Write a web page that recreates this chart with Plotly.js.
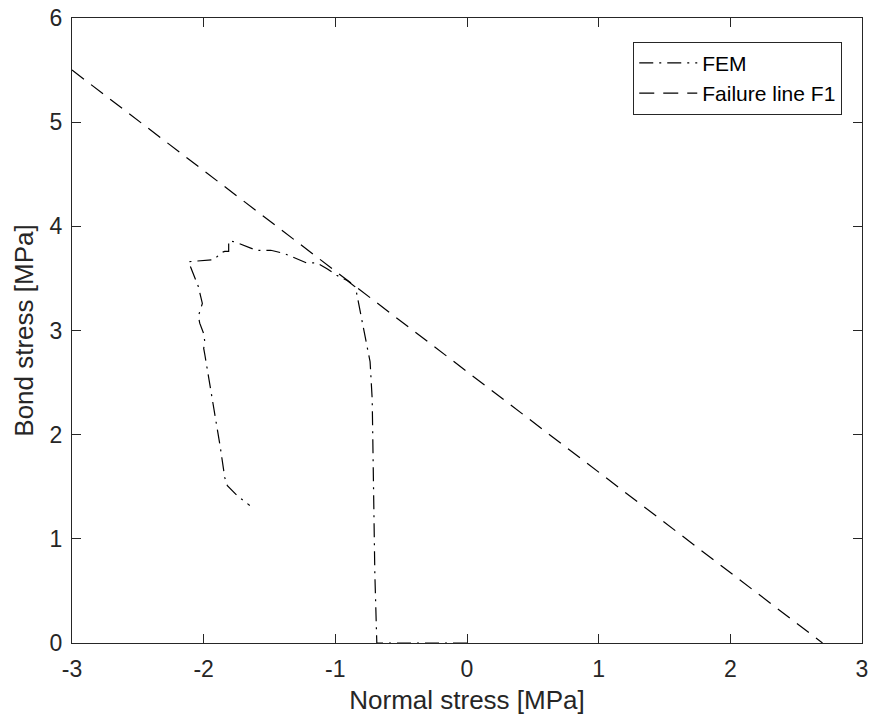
<!DOCTYPE html>
<html>
<head>
<meta charset="utf-8">
<script src="https://cdn.plot.ly/plotly-3.0.1.min.js"></script>
<style>html,body{margin:0;padding:0;background:#fff;}#chart{width:873px;height:723px;}</style>
</head>
<body>
<div id="chart"></div>
<script>
const femX = [0, -0.685, -0.70, -0.71, -0.72, -0.736, -0.766, -0.80, -0.84, -0.85, -0.91, -0.99, -1.06, -1.14, -1.22, -1.28, -1.39, -1.49, -1.60, -1.76, -1.81, -1.81, -1.84, -1.86, -1.925, -2.115, -2.08, -2.04, -2.01, -2.04, -2.03, -2.00, -1.99, -2.00, -1.99, -1.95, -1.91, -1.875, -1.84, -1.82, -1.75, -1.65];
const femY = [0, 0, 0.67, 1.63, 2.34, 2.70, 2.91, 3.11, 3.37, 3.42, 3.48, 3.53, 3.59, 3.65, 3.65, 3.68, 3.74, 3.77, 3.77, 3.85, 3.86, 3.76, 3.76, 3.75, 3.68, 3.66, 3.55, 3.42, 3.26, 3.14, 3.07, 2.97, 2.88, 2.83, 2.76, 2.46, 2.17, 1.89, 1.59, 1.51, 1.42, 1.32];
const failX = [-3, 2.7];
const failY = [5.5, 0];
const xTicks = [-3, -2, -1, 0, 1, 2, 3];
const yTicks = [0, 1, 2, 3, 4, 5, 6];

const font = "Liberation Sans, Arial, Helvetica, sans-serif";
const axisColor = "#262626";

const traces = [
  {x: femX, y: femY, type: "scatter", mode: "lines", name: "FEM",
   line: {color: "#000", width: 1.2, dash: "14px,6px,2px,6px"}},
  {x: failX, y: failY, type: "scatter", mode: "lines", name: "Failure line F1",
   line: {color: "#000", width: 1.2, dash: "15px,9px"}}
];

const axisCommon = {
  showline: true, linecolor: axisColor, linewidth: 1, mirror: "ticks",
  ticks: "inside", ticklen: 9, tickwidth: 1, tickcolor: axisColor,
  showgrid: false, zeroline: false, ticklabeloverflow: "allow",
  tickfont: {family: font, size: 23, color: axisColor}
};

const layout = {
  width: 873, height: 723,
  margin: {l: 72, r: 11, t: 18, b: 80},
  paper_bgcolor: "#fff", plot_bgcolor: "#fff",
  showlegend: true,
  legend: {x: 0.975, xanchor: "right", y: 0.962, yanchor: "top",
    bgcolor: "#fff", bordercolor: axisColor, borderwidth: 1,
    itemwidth: 58, tracegroupgap: 0,
    font: {family: font, size: 21, color: "#000"}},
  xaxis: Object.assign({}, axisCommon, {
    range: [-3, 3], tickvals: xTicks, ticktext: xTicks.map(String),
    ticklabelstandoff: 5,
    title: {text: "Normal stress [MPa]", font: {family: font, size: 26, color: axisColor}, standoff: 10}
  }),
  yaxis: Object.assign({}, axisCommon, {
    range: [0, 6], tickvals: yTicks, ticktext: yTicks.map(String),
    ticklabelstandoff: 4,
    title: {text: "Bond stress [MPa]", font: {family: font, size: 26, color: axisColor}, standoff: 8}
  })
};

Plotly.newPlot("chart", traces, layout, {displayModeBar: false, staticPlot: true});
</script>
</body>
</html>
